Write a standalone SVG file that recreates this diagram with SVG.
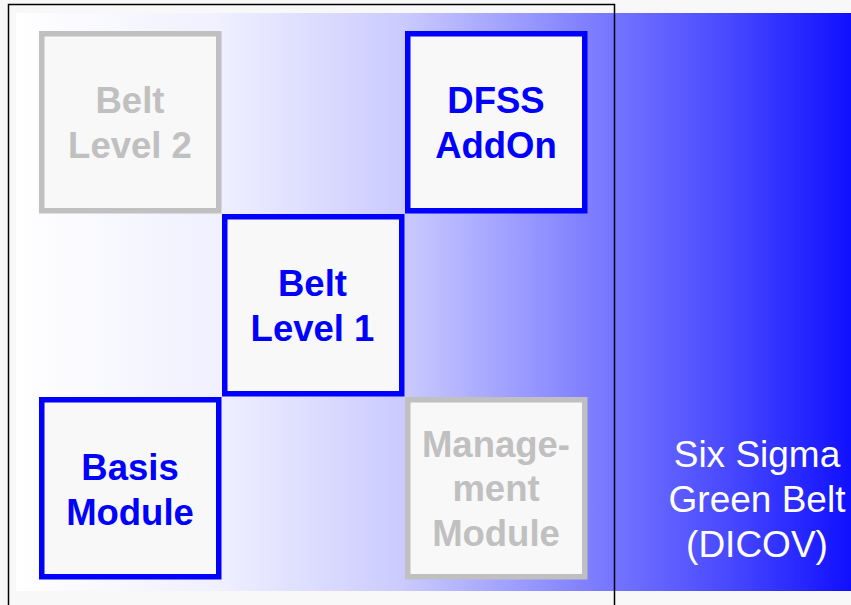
<svg xmlns="http://www.w3.org/2000/svg" width="851" height="605" viewBox="0 0 851 605">
<defs>
<linearGradient id="bg" gradientUnits="userSpaceOnUse" x1="16" y1="0" x2="851" y2="0">
<stop offset="0" stop-color="#ffffff"/>
<stop offset="0.24" stop-color="#f0f0ff"/>
<stop offset="0.465" stop-color="#cacaff"/>
<stop offset="0.59" stop-color="#a0a0ff"/>
<stop offset="0.716" stop-color="#7474ff"/>
<stop offset="0.855" stop-color="#4848ff"/>
<stop offset="1" stop-color="#1010ff"/>
</linearGradient>
<style>
.box{fill:#f8f8f8;stroke-width:5.5}
.on{stroke:#0000ff}
.off{stroke:#c0c0c0}
.t{font-family:"Liberation Sans",Arial,sans-serif;font-size:36.5px;font-weight:bold;text-anchor:middle}
.ton{fill:#0000ff}
.toff{fill:#c0c0c0}
.side{font-family:"Liberation Sans",Arial,sans-serif;font-size:37px;fill:#ffffff;text-anchor:middle}
</style>
</defs>
<rect width="851" height="605" fill="#f8f8f8"/>
<rect x="16" y="13" width="835" height="578" fill="url(#bg)"/>
<g id="connectors"/>
<g id="frame">
<path d="M8.5,605 V4.5 H614.5 V605" fill="none" stroke="#000" stroke-width="1.5"/>
</g>
<g id="belt-level-2">
<rect class="box off" x="41.75" y="33.75" width="177" height="177"/>
<text class="t toff" x="130" y="113">Belt</text>
<text class="t toff" x="130" y="158">Level 2</text>
</g>
<g id="dfss-addon">
<rect class="box on" x="407.75" y="33.75" width="177" height="177"/>
<text class="t ton" x="496" y="113">DFSS</text>
<text class="t ton" x="496" y="158">AddOn</text>
</g>
<g id="belt-level-1">
<rect class="box on" x="224.75" y="216.75" width="177" height="177"/>
<text class="t ton" x="312.5" y="296">Belt</text>
<text class="t ton" x="312.5" y="341">Level 1</text>
</g>
<g id="basis-module">
<rect class="box on" x="41.75" y="399.75" width="177" height="177"/>
<text class="t ton" x="130" y="480">Basis</text>
<text class="t ton" x="130" y="525">Module</text>
</g>
<g id="management-module">
<rect class="box off" x="407.75" y="399.75" width="177" height="177"/>
<text class="t toff" x="496" y="457">Manage-</text>
<text class="t toff" x="496" y="501">ment</text>
<text class="t toff" x="496" y="546">Module</text>
</g>
<g id="six-sigma-label">
<text class="side" x="757" y="467">Six Sigma</text>
<text class="side" x="757" y="512">Green Belt</text>
<text class="side" x="757" y="557">(DICOV)</text>
</g>
</svg>
